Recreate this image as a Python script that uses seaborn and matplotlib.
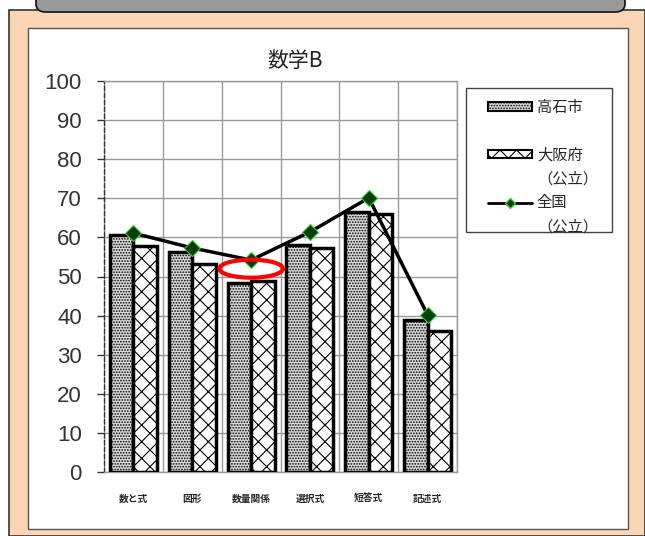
import matplotlib
matplotlib.use("Agg")
import matplotlib.pyplot as plt
import seaborn as sns
import pandas as pd
import numpy as np
from matplotlib.patches import Rectangle, FancyBboxPatch, Ellipse
from matplotlib.lines import Line2D
from matplotlib.patches import Patch

categories = ["数と式", "図形", "数量関係", "選択式", "短答式", "記述式"]
takaishi = [60.6, 56.3, 48.3, 58.0, 66.5, 38.9]
osaka = [57.8, 53.2, 48.8, 57.3, 66.0, 36.0]
zenkoku = [61.1, 57.3, 54.2, 61.4, 70.1, 40.2]
series_names = ["高石市", "大阪府", "全国"]
sub_label = "（公立）"
yticks = [0, 10, 20, 30, 40, 50, 60, 70, 80, 90, 100]

sns.set_theme(style="white")
plt.rcParams['font.family'] = ['Noto Sans CJK JP', 'DejaVu Sans']
plt.rcParams['hatch.linewidth'] = 0.8

W, H = 645, 536
fig = plt.figure(figsize=(W / 100, H / 100), dpi=100)
fig.patch.set_facecolor("white")

def fx(x): return x / W
def fy(y): return 1 - y / H

# peach frame
fig.add_artist(Rectangle((fx(9), 0), fx(W - 9), fy(10), transform=fig.transFigure,
                         facecolor="#FCD5B4", edgecolor="#333333", linewidth=1.2, zorder=0))
# white inner panel
fig.add_artist(Rectangle((fx(28), fy(529)), fx(628 - 28), (529 - 28) / H, transform=fig.transFigure,
                         facecolor="white", edgecolor="#555555", linewidth=1.0, zorder=0.5))
# gray header bar
fig.add_artist(FancyBboxPatch((fx(36), fy(12)), fx(625 - 36), 22 / H, transform=fig.transFigure,
                              boxstyle="round,pad=0,rounding_size=0.015",
                              facecolor="#9a9a9a", edgecolor="#111111", linewidth=1.2, zorder=1))
# legend frame
fig.add_artist(Rectangle((fx(466), fy(232)), fx(612 - 466), (232 - 88) / H, transform=fig.transFigure,
                         facecolor="white", edgecolor="#444444", linewidth=1.0, zorder=1))

ax = fig.add_axes([fx(104), fy(472), fx(457 - 104), (472 - 81) / H])
ax.set_zorder(2)
ax.set_facecolor("white")

df = pd.DataFrame({
    "cat": categories * 2,
    "val": takaishi + osaka,
    "series": [series_names[0]] * 6 + [series_names[1]] * 6,
})
sns.barplot(data=df, x="cat", y="val", hue="series", order=categories,
            hue_order=series_names[:2], palette=["#d9d9d9", "white"],
            width=0.8, edgecolor="black", linewidth=2.5, ax=ax, legend=False, zorder=3)
hatches = ["......"] * 6 + ["xx"] * 6
for p, h in zip(ax.patches, hatches):
    p.set_hatch(h)

dfl = pd.DataFrame({"cat": categories, "val": zenkoku})
sns.lineplot(data=dfl, x="cat", y="val", color="black", linewidth=2.5, marker="D",
             markersize=8, markerfacecolor="#0b3d0b", markeredgecolor="#33cc33",
             markeredgewidth=0.8, ax=ax, zorder=5, sort=False)

ax.set_xlim(-0.5, len(categories) - 0.5)
ax.set_ylim(0, 100)
ax.set_yticks(yticks)
ax.set_yticklabels([str(v) for v in yticks], fontsize=16, color="#333333",
                   family=["Liberation Sans", "DejaVu Sans"])
ax.set_xticks(range(len(categories)))
ax.set_xticklabels(categories, fontsize=7, fontweight="bold")
ax.set_xlabel("")
ax.set_ylabel("")
ax.tick_params(axis="y", length=5, width=1, color="#333333", left=True, pad=11)
ax.tick_params(axis="x", length=0, pad=16)

ax.set_xticks(np.arange(-0.5, len(categories), 1), minor=True)
ax.tick_params(axis="x", which="minor", length=0)
ax.grid(False)
ax.grid(True, axis="y", which="major", color="#999999", linewidth=1.0, zorder=0)
ax.grid(True, axis="x", which="minor", color="#999999", linewidth=1.0, zorder=0)
ax.set_axisbelow(True)
for s in ["top", "right", "bottom"]:
    ax.spines[s].set_visible(True)
    ax.spines[s].set_color("#999999")
    ax.spines[s].set_linewidth(1.0)
ax.spines["left"].set_linestyle((0, (3, 2)))
ax.spines["left"].set_color("#333333")
ax.spines["left"].set_linewidth(1.0)

ax.set_title("数学B", fontsize=15, pad=10, color="#222222", x=0.54)

# red ellipse annotation
ax.add_patch(Ellipse((2, 52), 1.08, 4.6, facecolor="none", edgecolor="red", linewidth=3, zorder=6))

blank = Patch(facecolor="none", edgecolor="none")
handles = [
    Patch(facecolor="#d9d9d9", edgecolor="black", hatch="......", linewidth=1.5),
    blank,
    Patch(facecolor="white", edgecolor="black", hatch="xx", linewidth=1.5),
    blank,
    Line2D([], [], color="black", linewidth=2, marker="D", markersize=5,
           markerfacecolor="#0b3d0b", markeredgecolor="#33cc33"),
    blank,
]
labels = [series_names[0], "", series_names[1], sub_label, series_names[2], sub_label]
leg = fig.legend(handles, labels, loc="upper left",
                 bbox_to_anchor=(fx(488), fy(99)), frameon=False, fontsize=11,
                 handlelength=2.9, handleheight=0.45, labelspacing=0.45,
                 borderpad=0, borderaxespad=0, handletextpad=0.3)
leg.set_zorder(10)

fig.savefig("out.png", dpi=100)
